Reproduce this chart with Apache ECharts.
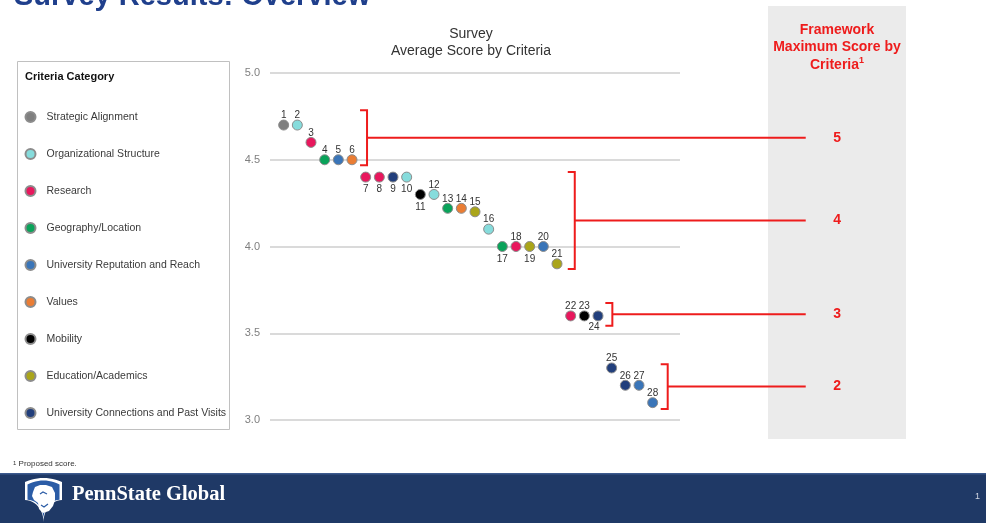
<!DOCTYPE html>
<html>
<head>
<meta charset="utf-8">
<style>
  html, body { margin: 0; padding: 0; background: #ffffff; }
  #chart { width: 986px; height: 523px; }
</style>
<script src="https://cdn.jsdelivr.net/npm/echarts@6/dist/echarts.min.js"></script>
</head>
<body>
<div id="chart"></div>
<script>
// Criteria categories and their colours
const categories = [
  'Strategic Alignment',
  'Organizational Structure',
  'Research',
  'Geography/Location',
  'University Reputation and Reach',
  'Values',
  'Mobility',
  'Education/Academics',
  'University Connections and Past Visits'
];
const categoryColors = [
  '#7f7f7f', '#86dcdc', '#e8175d', '#0aa35a', '#3a75b8',
  '#ea7d34', '#000000', '#aaa51a', '#223f7c'
];

// Average score of each numbered criterion (criteria 1..28, ranked)
const criterionScores = [
  4.7, 4.7, 4.6, 4.5, 4.5, 4.5, 4.4, 4.4, 4.4, 4.4,
  4.3, 4.3, 4.22, 4.22, 4.2, 4.1, 4.0, 4.0, 4.0, 4.0,
  3.9, 3.6, 3.6, 3.6, 3.3, 3.2, 3.2, 3.1
];
// Category (index into categories) of each criterion
const criterionCategory = [
  0, 1, 2, 3, 4, 5, 2, 2, 8, 1,
  6, 1, 3, 5, 7, 1, 3, 2, 7, 4,
  7, 2, 6, 8, 8, 8, 4, 4
];
// Criteria whose number is printed under the dot
const labelBelow = [7, 8, 9, 10, 11, 17, 19, 24];

// Y axis ticks
const yTicks = [3.0, 3.5, 4.0, 4.5, 5.0];

// Framework maximum score groups: bracket x position, top score, bottom score
const frameworkScores = [5, 4, 3, 2];
const bracketX = [7.1, 22.3, 25.05, 29.1];
const bracketTop = [4.785, 4.43, 3.675, 3.322];
const bracketBottom = [4.468, 3.87, 3.543, 3.063];
const leaderEndX = 39.2;
const scoreLabelX = 41.5;

const chart = echarts.init(document.getElementById('chart'));

const scatterSeries = categories.map(function (name, ci) {
  const data = [];
  criterionScores.forEach(function (v, i) {
    if (criterionCategory[i] !== ci) return;
    const num = i + 1;
    const below = labelBelow.indexOf(num) >= 0;
    data.push({
      value: [num, v],
      label: {
        position: below ? 'bottom' : 'top',
        offset: num === 24 ? [-4, -1] : (below ? [0, 0] : [0, 3])
      }
    });
  });
  return {
    name: name,
    type: 'scatter',
    symbol: 'circle',
    symbolSize: 10,
    z: 5,
    itemStyle: { color: categoryColors[ci], borderColor: '#8c8c8c', borderWidth: 1, opacity: 1 },
    label: {
      show: true,
      formatter: function (p) { return String(p.value[0]); },
      fontSize: 10,
      color: '#333333',
      fontFamily: 'Liberation Sans, Arial, sans-serif',
      distance: 2
    },
    emphasis: { disabled: true },
    data: data
  };
});

const bracketSeries = {
  type: 'custom',
  name: 'Framework',
  silent: true,
  z: 4,
  clip: false,
  data: frameworkScores.map(function (s, i) {
    return [bracketX[i], bracketTop[i], bracketBottom[i], s];
  }),
  renderItem: function (params, api) {
    const top = api.coord([api.value(0), api.value(1)]);
    const bot = api.coord([api.value(0), api.value(2)]);
    const midY = (top[1] + bot[1]) / 2;
    const endX = api.coord([leaderEndX, api.value(1)])[0];
    const labX = api.coord([scoreLabelX, api.value(1)])[0];
    const x = top[0];
    const tick = 7;
    const lineStyle = { stroke: '#ee1c1c', lineWidth: 2, fill: null };
    return {
      type: 'group',
      children: [
        { type: 'polyline', shape: { points: [[x - tick, top[1]], [x, top[1]], [x, bot[1]], [x - tick, bot[1]]] }, style: lineStyle },
        { type: 'line', shape: { x1: x, y1: midY, x2: endX, y2: midY }, style: lineStyle },
        { type: 'text', style: { text: String(api.value(3)), x: labX, y: midY, textAlign: 'center', textVerticalAlign: 'middle',
          fill: '#ee1c1c', font: 'bold 14px "Liberation Sans", Arial, sans-serif' } }
      ]
    };
  }
};

// Shield outline for the footer mark: straight sides, curved top and pointed base
function shieldPoints(x0, y0, w, h) {
  const pts = [];
  const n = 12;
  for (let i = 0; i <= n; i++) {          // top edge, slight arch
    const t = i / n;
    pts.push([x0 + w * t, y0 + 4 * Math.pow(2 * t - 1, 2)]);
  }
  pts.push([x0 + w, y0 + h * 0.5]);
  for (let i = 1; i <= n; i++) {          // right curve to the point
    const t = i / n;
    pts.push([x0 + w - (w / 2) * Math.sin(t * Math.PI / 2), y0 + h * 0.5 + h * 0.5 * (1 - Math.cos(t * Math.PI / 2))]);
  }
  for (let i = n - 1; i >= 0; i--) {      // left curve back up
    const t = i / n;
    pts.push([x0 + (w / 2) * Math.sin(t * Math.PI / 2), y0 + h * 0.5 + h * 0.5 * (1 - Math.cos(t * Math.PI / 2))]);
  }
  pts.push([x0, y0 + 4]);
  return pts;
}

chart.setOption({
  animation: false,
  backgroundColor: '#ffffff',
  textStyle: { fontFamily: 'Liberation Sans, Arial, sans-serif' },
  title: {
    text: 'Survey\nAverage Score by Criteria',
    left: 466,
    top: 21,
    textAlign: 'center',
    textStyle: { fontSize: 14, fontWeight: 'normal', color: '#333333', lineHeight: 17,
      fontFamily: 'Liberation Sans, Arial, sans-serif' }
  },
  legend: {
    orient: 'vertical',
    left: 24.5,
    top: 111,
    padding: 0,
    itemWidth: 10,
    itemHeight: 10,
    itemGap: 25,
    icon: 'circle',
    selectedMode: false,
    textStyle: { fontSize: 10.5, color: '#3a3a3a', padding: [0, 0, 0, 6],
      fontFamily: 'Liberation Sans, Arial, sans-serif' },
    data: categories
  },
  grid: { left: 270, right: 306, top: 73, bottom: 103, containLabel: false },
  xAxis: {
    type: 'value', min: 0, max: 30, show: false
  },
  yAxis: {
    type: 'value',
    min: yTicks[0],
    max: yTicks[yTicks.length - 1],
    interval: 0.5,
    axisLine: { show: false },
    axisTick: { show: false },
    axisLabel: {
      formatter: function (v) { return v.toFixed(1); },
      fontSize: 11, color: '#7f7f7f', margin: 10
    },
    splitLine: { lineStyle: { color: '#dadada', width: 2 } }
  },
  graphic: [
    // page heading, partly above the top edge
    { type: 'text', x: 14, y: 11, z: 10,
      style: { text: 'Survey Results: Overview', fill: '#1f3f8c', textVerticalAlign: 'bottom',
        font: 'bold 29px "Liberation Sans", Arial, sans-serif' } },
    // framework panel background
    { type: 'rect', shape: { x: 768, y: 6, width: 138, height: 433 }, z: -10,
      style: { fill: '#ebebeb' } },
    { type: 'text', x: 837, y: 21, z: 10,
      style: { text: 'Framework\nMaximum Score by\nCriteria{s|1}', textAlign: 'center',
        fill: '#ee1c1c', font: 'bold 14px "Liberation Sans", Arial, sans-serif', lineHeight: 17.5,
        rich: { s: { fontSize: 9, fontWeight: 'bold', fill: '#ee1c1c', verticalAlign: 'top', padding: [0, 0, 6, 0] } } } },
    // legend frame and heading
    { type: 'rect', shape: { x: 17.5, y: 61.5, width: 212, height: 368 }, z: -5,
      style: { fill: '#ffffff', stroke: '#c0c0c0', lineWidth: 1 } },
    { type: 'text', x: 25, y: 77, z: 10,
      style: { text: 'Criteria Category', textVerticalAlign: 'middle', fill: '#111111',
        font: 'bold 11px "Liberation Sans", Arial, sans-serif' } },
    // footnote
    { type: 'text', x: 13, y: 460, z: 10,
      style: { text: '{s|1} Proposed score.', fill: '#333333',
        font: '8px "Liberation Sans", Arial, sans-serif',
        rich: { s: { fontSize: 6, fill: '#333333', verticalAlign: 'top' } } } },
    // footer band
    { type: 'rect', shape: { x: 0, y: 473, width: 986, height: 50 }, z: -10,
      style: { fill: '#1f3966' } },
    { type: 'rect', shape: { x: 0, y: 473, width: 986, height: 1.5 }, z: -9,
      style: { fill: '#3c5a8e' } },
    // shield mark
    { type: 'polygon', z: 10, shape: { points: shieldPoints(25, 478, 37, 44) },
      style: { fill: '#ffffff' } },
    { type: 'polygon', z: 11, shape: { points: shieldPoints(27.5, 480.5, 32, 38.5) },
      style: { fill: '#2b5ca6' } },
    { type: 'polygon', z: 12,
      shape: { points: [[33, 492], [35, 487], [40, 485], [46, 485], [52, 487], [55, 493], [55, 500], [53, 506], [49, 511], [43, 513], [39, 509], [38, 503], [34, 500], [32, 496]] },
      style: { fill: '#ffffff' } },
    { type: 'polyline', z: 13,
      shape: { points: [[40, 494], [43, 492], [47, 494]] },
      style: { fill: null, stroke: '#2b5ca6', lineWidth: 1.2 } },
    { type: 'polyline', z: 13,
      shape: { points: [[41, 505], [44, 507], [48, 504]] },
      style: { fill: null, stroke: '#2b5ca6', lineWidth: 1.2 } },
    { type: 'text', x: 72, y: 495, z: 10,
      style: { text: 'PennState Global', textVerticalAlign: 'middle', fill: '#ffffff',
        font: 'bold 20.5px "Liberation Serif", "DejaVu Serif", serif' } },
    { type: 'text', x: 975, y: 497, z: 10,
      style: { text: '1', textVerticalAlign: 'middle', fill: '#d0d6e2',
        font: '9px "Liberation Sans", Arial, sans-serif' } }
  ],
  series: scatterSeries.concat([bracketSeries])
});
</script>
</body>
</html>
